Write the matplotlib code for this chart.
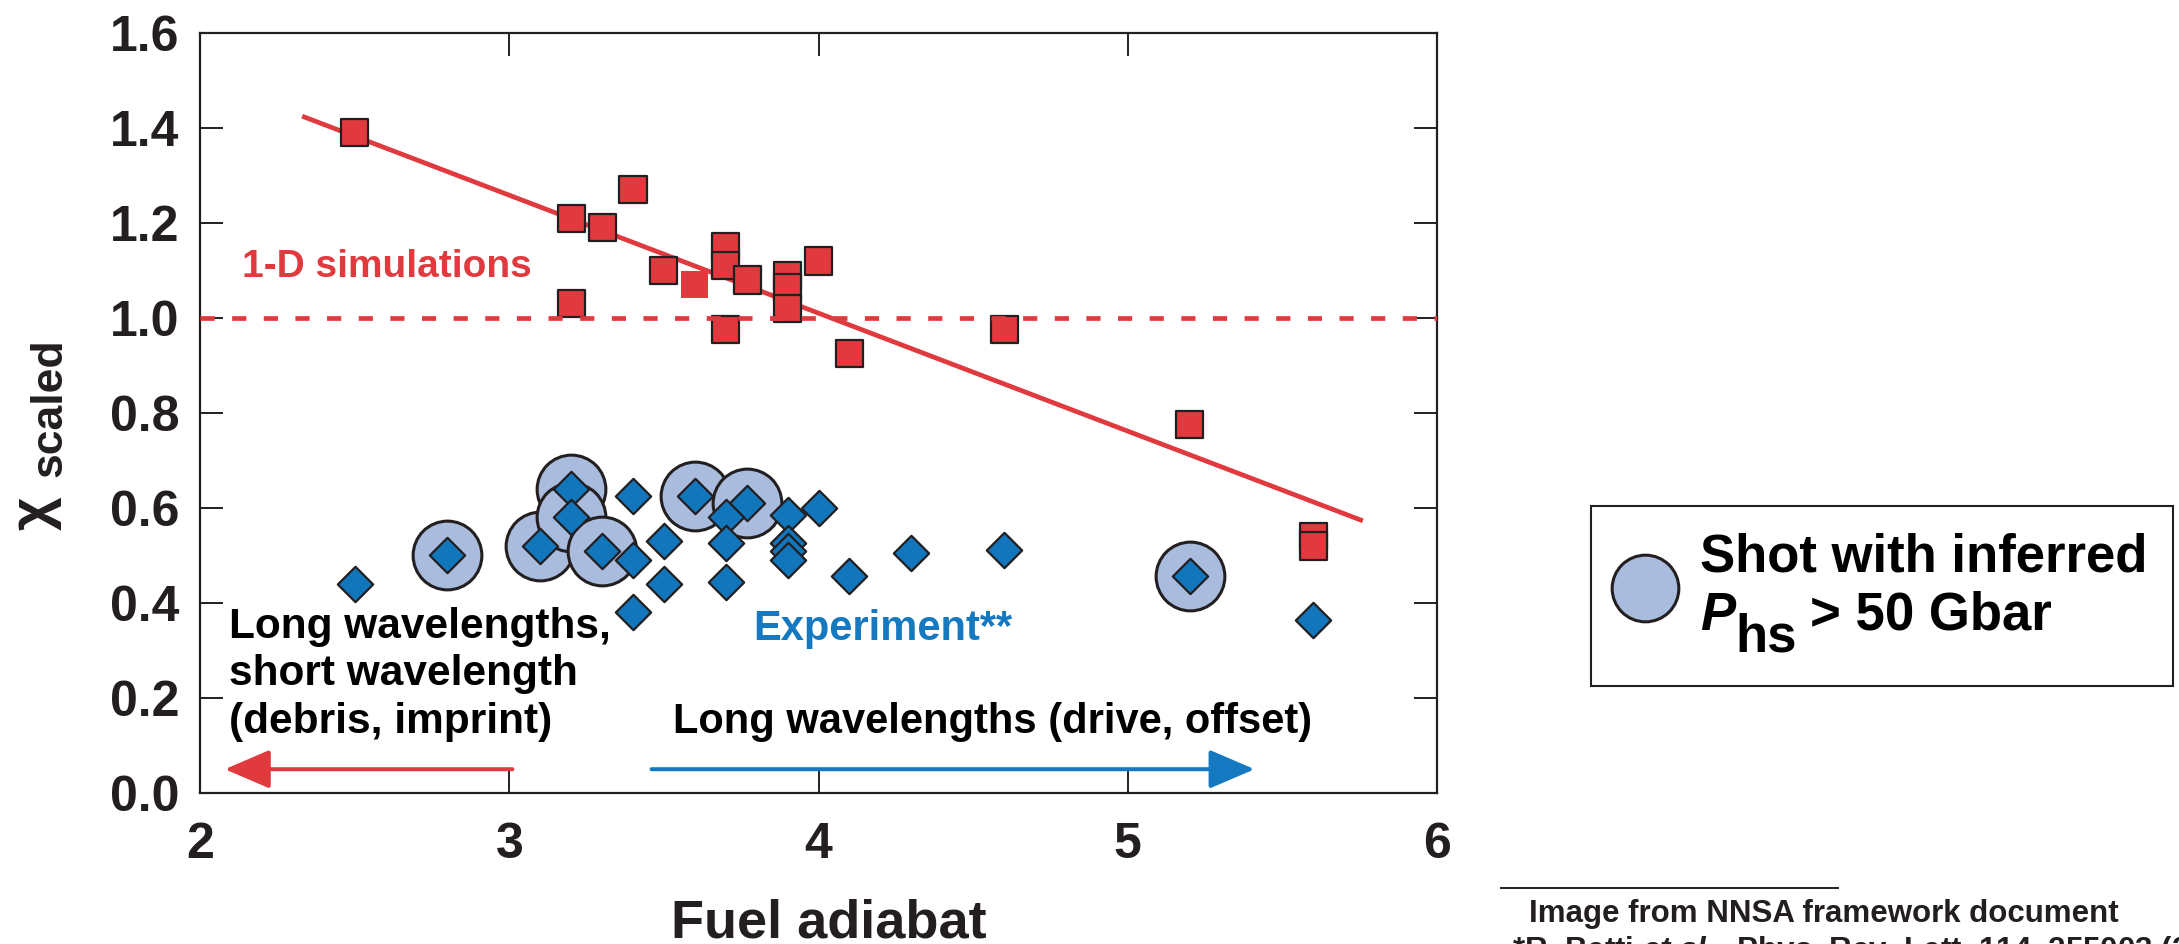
import matplotlib
matplotlib.use("Agg")
import matplotlib.pyplot as plt
from matplotlib.lines import Line2D
from matplotlib.patches import Rectangle

# chi_scaled vs fuel adiabat

# 1-D simulations (red squares), listed top-to-bottom inside clusters so the lower one sits on top
sim_x = [2.5, 3.2, 3.3, 3.4, 3.2, 3.5, 3.6, 3.7, 3.7, 3.77, 3.7, 3.9, 3.9, 3.9, 4.0, 4.1, 4.6, 5.2, 5.6, 5.6]
sim_y = [1.39, 1.21, 1.19, 1.27, 1.03, 1.10, 1.07, 1.15, 1.11, 1.08, 0.975, 1.09, 1.065, 1.02, 1.12, 0.925, 0.975, 0.775, 0.54, 0.52]
sim_outlined = [1, 1, 1, 1, 1, 1, 0, 1, 1, 1, 1, 1, 1, 1, 1, 1, 1, 1, 1, 1]

# trend line through the simulations (end points)
fit_x = [2.33, 5.76]
fit_y = [1.425, 0.573]

# experiment (blue diamonds); high_p marks shots with inferred P_hs > 50 Gbar
exp_x = [2.5, 2.8, 3.1, 3.2, 3.2, 3.3, 3.4, 3.4, 3.4, 3.5, 3.5, 3.6, 3.77, 3.7, 3.7, 3.7,
         3.9, 3.9, 3.9, 3.9, 4.0, 4.1, 4.3, 4.6, 5.2, 5.6]
exp_y = [0.44, 0.50, 0.52, 0.64, 0.58, 0.51, 0.625, 0.49, 0.38, 0.53, 0.44, 0.625, 0.61, 0.58, 0.527, 0.445,
         0.585, 0.526, 0.51, 0.49, 0.60, 0.457, 0.505, 0.512, 0.457, 0.365]
high_p = [0, 1, 1, 1, 1, 1, 0, 0, 0, 0, 0, 1, 1, 0, 0, 0,
          0, 0, 0, 0, 0, 0, 0, 0, 1, 0]

x_ticks = [2, 3, 4, 5, 6]
y_ticks = [0.0, 0.2, 0.4, 0.6, 0.8, 1.0, 1.2, 1.4, 1.6]

red = "#e0393e"
blue = "#1276bc"
blue_txt = "#1479c1"
ring = "#aabcde"
ink = "#231f20"

plt.rcParams["font.family"] = ["Liberation Sans", "DejaVu Sans"]
plt.rcParams["font.weight"] = "bold"
plt.rcParams["axes.labelweight"] = "bold"
plt.rcParams["mathtext.fontset"] = "custom"
plt.rcParams["mathtext.rm"] = "Liberation Sans:bold"
plt.rcParams["mathtext.it"] = "Liberation Sans:italic:bold"
plt.rcParams["mathtext.bf"] = "Liberation Sans:bold"

W, H = 2179, 944
fig = plt.figure(figsize=(W / 100, H / 100), dpi=100)
ax = fig.add_axes([0.0918, 0.160, 0.5677, 0.805])

def fx(px):
    return px / W

def fy(py):
    return 1 - py / H

# simulations
ax.plot(fit_x, fit_y, color=red, lw=3.4, zorder=2, solid_capstyle="butt")
ax.scatter(sim_x, sim_y, marker="s", s=19.5 ** 2, c=red,
           edgecolors=[ink if o else red for o in sim_outlined],
           linewidths=[1.6 if o else 0 for o in sim_outlined], zorder=3)
ax.axhline(1.0, color=red, lw=3.4, dashes=(3.0, 3.7), zorder=4)

# experiment
hx = [x for x, h in zip(exp_x, high_p) if h]
hy = [y for y, h in zip(exp_y, high_p) if h]
for x, y in zip(hx, hy):
    ax.scatter([x], [y], marker="o", s=49.5 ** 2, c=ring, edgecolors=ink, linewidths=2.2, zorder=5)
ax.scatter(exp_x, exp_y, marker="D", s=18 ** 2, c=blue, edgecolors=ink, linewidths=1.6, zorder=6)

# annotations
ax.text(2.137, 1.087, "1-D simulations", color=red, fontsize=28, va="baseline", zorder=7)
ax.text(3.79, 0.322, "Experiment**", color=blue_txt, fontsize=30, va="baseline", zorder=7)
ax.text(2.094, 0.126, "Long wavelengths,\nshort wavelength\n(debris, imprint)", color="black",
        fontsize=30.5, va="baseline", linespacing=1.25, zorder=7)
ax.text(3.529, 0.126, "Long wavelengths (drive, offset)", color="black", fontsize=30,
        va="baseline", zorder=7)
ax.annotate("", xy=(2.08, 0.05), xytext=(3.01, 0.05),
            arrowprops=dict(arrowstyle="-|>,head_length=1.4,head_width=0.6", color=red, lw=2.9,
                            mutation_scale=20, shrinkA=0, shrinkB=0), zorder=7)
ax.annotate("", xy=(5.41, 0.05), xytext=(3.46, 0.05),
            arrowprops=dict(arrowstyle="-|>,head_length=1.4,head_width=0.6", color=blue_txt, lw=2.9,
                            mutation_scale=20, shrinkA=0, shrinkB=0), zorder=7)

# axes
ax.set_xlim(2, 6)
ax.set_ylim(0, 1.6)
ax.set_xticks(x_ticks)
ax.set_xticklabels([str(t) for t in x_ticks])
ax.set_yticks(y_ticks)
ax.set_yticklabels(["%.1f" % t for t in y_ticks])
ax.tick_params(direction="in", length=16.5, width=1.4, color=ink, labelsize=36,
               top=True, right=True, labelcolor=ink)
ax.tick_params(axis="x", pad=21)
ax.tick_params(axis="y", pad=15)
for sp in ax.spines.values():
    sp.set_linewidth(1.6)
    sp.set_color(ink)
ax.set_xlabel("Fuel adiabat", fontsize=39, color=ink, labelpad=22)
ax.xaxis.label.set_x(0.508)

# y label: chi with "scaled" subscript
fig.text(0.0228, 0.4386, "χ", fontsize=42, rotation=90, rotation_mode="anchor",
         ha="left", va="baseline", color=ink)
fig.text(0.0283, 0.495, "scaled", fontsize=32, rotation=90, rotation_mode="anchor",
         ha="left", va="baseline", color=ink)

# legend box (drawn by hand so the subscript keeps full size)
fig.add_artist(Rectangle((fx(1591), fy(686)), fx(582), 180 / H, transform=fig.transFigure,
                         facecolor="white", edgecolor=ink, lw=1.5))
fig.add_artist(Line2D([fx(1645)], [fy(588)], transform=fig.transFigure, ls="none", marker="o",
                      ms=48, mfc=ring, mec=ink, mew=2.2))
fig.text(fx(1700), fy(572), "Shot with inferred", fontsize=38, va="baseline", color="black")
rend = fig.canvas.get_renderer()
t_p = fig.text(fx(1700), fy(630), "P", fontsize=38, style="italic", va="baseline", color="black")
x_hs = t_p.get_window_extent(rend).x1
t_hs = fig.text(x_hs / W, fy(651), "hs", fontsize=38, va="baseline", color="black")
x_gt = t_hs.get_window_extent(rend).x1 + 13
fig.text(x_gt / W, fy(630), "> 50 Gbar", fontsize=38, va="baseline", color="black")

# footnote
fig.add_artist(Line2D([0.689, 0.8435], [0.059, 0.059], color=ink, lw=1.4))
fig.text(0.7017, 0.0236, "Image from NNSA framework document", fontsize=22.5, color=ink)
fig.text(0.694, -0.016, "*R. Betti $\\mathit{et\\ al.}$, Phys. Rev. Lett. 114, 255003 (2015).",
         fontsize=22.5, color=ink)

fig.savefig("out.png", dpi=100)
